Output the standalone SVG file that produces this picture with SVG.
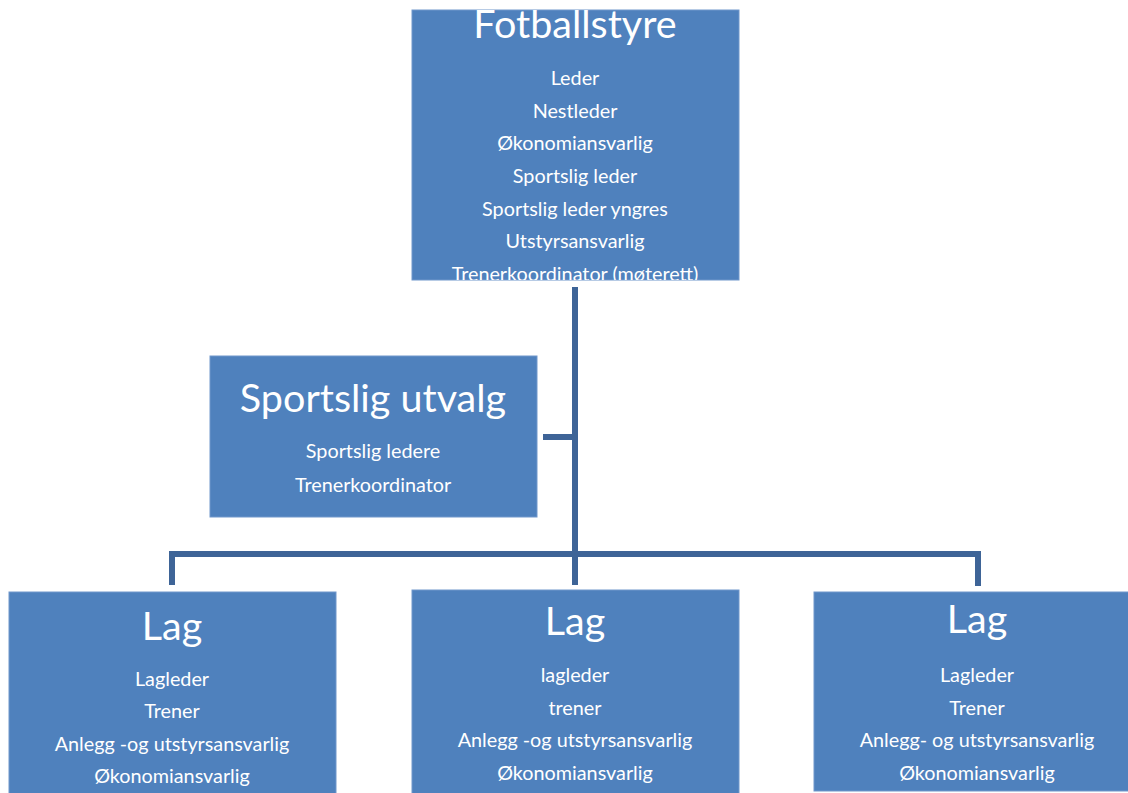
<svg xmlns="http://www.w3.org/2000/svg" width="1128" height="793" viewBox="0 0 1128 793">
<style>
.box{fill:#4F81BD;stroke:#7197CB;stroke-width:1}
.t{font-family:Lato,"Open Sans","Liberation Sans",sans-serif;fill:#fff;text-anchor:middle}
.h{font-size:39.5px}
.s{font-size:19.8px}
.c{stroke:#3E6497;stroke-width:6;fill:none}
</style>
<defs>
<clipPath id="clipTop"><rect x="412" y="10" width="327" height="270"/></clipPath>
</defs>
<rect width="1128" height="793" fill="#fff"/>
<g id="connectors">
<line class="c" x1="575" y1="287" x2="575" y2="585"/>
<line class="c" x1="543" y1="437" x2="575" y2="437"/>
<polyline class="c" points="172,585 172,554 978,554 978,586" stroke-linejoin="miter"/>
</g>
<g id="fotballstyre">
<rect class="box" x="412" y="10" width="327" height="270"/>
<g clip-path="url(#clipTop)">
<text class="t h" x="575" y="38">Fotballstyre</text>
<text class="t s" x="575" y="85">Leder</text>
<text class="t s" x="575" y="118">Nestleder</text>
<text class="t s" x="575" y="150">Økonomiansvarlig</text>
<text class="t s" x="575" y="183">Sportslig leder</text>
<text class="t s" x="575" y="216">Sportslig leder yngres</text>
<text class="t s" x="575" y="248">Utstyrsansvarlig</text>
<text class="t s" x="575" y="281">Trenerkoordinator (møterett)</text>
</g>
</g>
<g id="sportslig-utvalg">
<rect class="box" x="210" y="356" width="327" height="161"/>
<text class="t h" x="373" y="412">Sportslig utvalg</text>
<text class="t s" x="373" y="458">Sportslig ledere</text>
<text class="t s" x="373" y="492">Trenerkoordinator</text>
</g>
<g id="lag-1">
<rect class="box" x="9" y="592" width="327" height="205"/>
<text class="t h" x="172" y="640">Lag</text>
<text class="t s" x="172" y="686">Lagleder</text>
<text class="t s" x="172" y="718">Trener</text>
<text class="t s" x="172" y="751">Anlegg -og utstyrsansvarlig</text>
<text class="t s" x="172" y="783">Økonomiansvarlig</text>
</g>
<g id="lag-2">
<rect class="box" x="412" y="590" width="327" height="207"/>
<text class="t h" x="575" y="635">Lag</text>
<text class="t s" x="575" y="682">lagleder</text>
<text class="t s" x="575" y="715">trener</text>
<text class="t s" x="575" y="747">Anlegg -og utstyrsansvarlig</text>
<text class="t s" x="575" y="780">Økonomiansvarlig</text>
</g>
<g id="lag-3">
<rect class="box" x="814" y="592" width="327" height="199"/>
<text class="t h" x="977" y="633">Lag</text>
<text class="t s" x="977" y="682">Lagleder</text>
<text class="t s" x="977" y="715">Trener</text>
<text class="t s" x="977" y="747">Anlegg- og utstyrsansvarlig</text>
<text class="t s" x="977" y="780">Økonomiansvarlig</text>
</g>
</svg>
